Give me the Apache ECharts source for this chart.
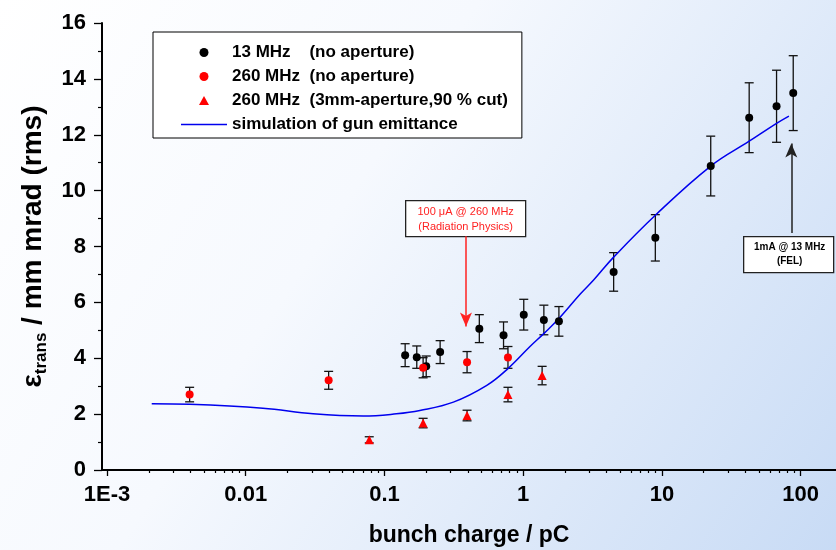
<!DOCTYPE html>
<html>
<head>
<meta charset="utf-8">
<script src="https://cdn.jsdelivr.net/npm/echarts@6/dist/echarts.min.js"></script>
<style>
  html, body { margin: 0; padding: 0; }
  #chart { width: 836px; height: 550px; }
</style>
</head>
<body>
<div id="chart"></div>
<script>
// 13 MHz (no aperture)
var q13 = [0.141, 0.171, 0.200, 0.252, 0.483, 0.722, 1.01, 1.41, 1.81, 4.49, 8.97, 22.5, 42.6, 67.1, 88.5];
var eps13 = [4.11, 4.04, 3.71, 4.22, 5.06, 4.82, 5.56, 5.37, 5.32, 7.09, 8.31, 10.88, 12.61, 13.02, 13.49];
var err13 = [0.41, 0.40, 0.37, 0.41, 0.50, 0.48, 0.55, 0.53, 0.53, 0.69, 0.83, 1.07, 1.25, 1.29, 1.34];
// 260 MHz (no aperture)
var q260 = [0.00394, 0.0396, 0.190, 0.394, 0.777];
var eps260 = [2.70, 3.21, 3.66, 3.86, 4.03];
var err260 = [0.26, 0.32, 0.36, 0.38, 0.39];
// 260 MHz (3mm aperture, 90 % cut)
var qCut = [0.0777, 0.190, 0.394, 0.777, 1.37];
var epsCut = [1.08, 1.68, 1.95, 2.70, 3.38];
var errCut = [0.11, 0.17, 0.19, 0.26, 0.33];
// simulation of gun emittance
var qSim = [0.0021, 0.00394, 0.0133, 0.0306, 0.0703, 0.122, 0.18, 0.314, 0.547, 0.777, 1.12, 1.42, 1.81, 2.58, 3.22, 4.49, 8.97, 22.5, 42.6, 67.1, 82.4];
var epsSim = [2.37, 2.35, 2.21, 2.01, 1.93, 2.01, 2.13, 2.43, 3.03, 3.63, 4.42, 4.90, 5.42, 6.30, 6.80, 7.62, 9.12, 10.88, 11.77, 12.41, 12.67];

// 坐标轴刻度
var xMajor = [0.001, 0.01, 0.1, 1, 10, 100];
var xMinor = [0.002, 0.003, 0.004, 0.005, 0.006, 0.007, 0.008, 0.009,
  0.02, 0.03, 0.04, 0.05, 0.06, 0.07, 0.08, 0.09,
  0.2, 0.3, 0.4, 0.5, 0.6, 0.7, 0.8, 0.9,
  2, 3, 4, 5, 6, 7, 8, 9,
  20, 30, 40, 50, 60, 70, 80, 90];
var xLabels = { 0.001: "1E-3", 0.01: "0.01", 0.1: "0.1", 1: "1", 10: "10", 100: "100" };

// 箭头注释 [x, y起点, y终点]
var arrowRed = [0.387, 8.37, 5.14];
var arrowBlack = [85.7, 8.48, 11.69];

var names = ["13 MHz    (no aperture)", "260 MHz  (no aperture)", "260 MHz  (3mm-aperture,90 % cut)", "simulation of gun emittance"];
var font = "Liberation Sans, Arial, sans-serif";

function pts(xs, ys) {
  return xs.map(function (x, i) { return [x, ys[i]]; });
}
function bars(xs, ys, es) {
  return xs.map(function (x, i) { return [x, ys[i] - es[i], ys[i] + es[i]]; });
}
// 误差棒
function renderErr(params, api) {
  var lo = api.coord([api.value(0), api.value(1)]);
  var hi = api.coord([api.value(0), api.value(2)]);
  var w = 4.5;
  var st = { stroke: "#111", lineWidth: 1.3 };
  return {
    type: "group",
    children: [
      { type: "line", shape: { x1: lo[0], y1: lo[1], x2: hi[0], y2: hi[1] }, style: st },
      { type: "line", shape: { x1: lo[0] - w, y1: lo[1], x2: lo[0] + w, y2: lo[1] }, style: st },
      { type: "line", shape: { x1: hi[0] - w, y1: hi[1], x2: hi[0] + w, y2: hi[1] }, style: st }
    ]
  };
}
function errSeries(data) {
  return {
    type: "custom",
    renderItem: renderErr,
    encode: { x: 0, y: [1, 2] },
    data: data,
    silent: true,
    z: 1
  };
}

(function () {
  var myChart = echarts.init(document.getElementById("chart"));
  var option = {
    animation: false,
    backgroundColor: {
      type: "linear", x: 0, y: 0, x2: 1, y2: 1,
      colorStops: [
        { offset: 0, color: "#ffffff" },
        { offset: 0.4, color: "#f6f9fe" },
        { offset: 1, color: "#c8dbf5" }
      ]
    },
    grid: { left: 102, right: 0, top: 23, bottom: 80, containLabel: false, outerBoundsMode: "none" },
    legend: {
      orient: "vertical",
      left: 153,
      top: 32,
      padding: [12, 14, 5, 28],
      itemGap: 7,
      itemWidth: 46,
      itemHeight: 9,
      itemTextGap: 5,
      borderColor: "#000",
      borderWidth: 1,
      borderRadius: 0,
      backgroundColor: "#fff",
      textStyle: { fontFamily: font, fontWeight: "bold", fontSize: 17, color: "#000", lineHeight: 17 },
      data: [
        { name: names[0], icon: "circle" },
        { name: names[1], icon: "circle" },
        { name: names[2], icon: "path://M0,9L5,0L10,9Z" },
        { name: names[3], icon: "path://M0,0L46,0L46,1.5L0,1.5Z" }
      ]
    },
    xAxis: [
      {
        type: "log",
        min: 0.00092,
        max: 180,
        position: "bottom",
        name: "bunch charge / pC",
        nameLocation: "middle",
        nameGap: 54,
        nameTextStyle: { fontFamily: font, fontWeight: "bold", fontSize: 23, color: "#000" },
        axisLine: { onZero: false, lineStyle: { color: "#000", width: 2 } },
        axisTick: { customValues: xMajor, length: 6, lineStyle: { color: "#000", width: 1.3 } },
        axisLabel: {
          customValues: xMajor,
          margin: 14,
          fontFamily: font, fontWeight: "bold", fontSize: 22, color: "#000",
          formatter: function (v) { return xLabels[v] || ""; }
        },
        splitLine: { show: false }
      },
      {
        type: "log",
        min: 0.00092,
        max: 180,
        position: "bottom",
        axisLine: { show: false, onZero: false },
        axisTick: { customValues: xMinor, length: 3, lineStyle: { color: "#000", width: 1.2 } },
        axisLabel: { show: false },
        splitLine: { show: false }
      }
    ],
    yAxis: {
      type: "value",
      min: 0,
      max: 16,
      interval: 2,
      name: "{e|ε}{s|trans}{e| / mm mrad (rms)}",
      nameLocation: "middle",
      nameGap: 52,
      nameTextStyle: {
        rich: {
          e: { fontFamily: font, fontWeight: "bold", fontSize: 28, color: "#000", lineHeight: 34, verticalAlign: "middle" },
          s: { fontFamily: font, fontWeight: "bold", fontSize: 17, color: "#000", lineHeight: 17, verticalAlign: "bottom" }
        }
      },
      axisLine: { onZero: false, lineStyle: { color: "#000", width: 2 } },
      axisTick: { length: 8, lineStyle: { color: "#000", width: 1.3 } },
      minorTick: { show: true, splitNumber: 2, length: 4, lineStyle: { color: "#000", width: 1.2 } },
      axisLabel: { margin: 16, fontFamily: font, fontWeight: "bold", fontSize: 22, color: "#000" },
      splitLine: { show: false }
    },
    series: [
      errSeries(bars(q13, eps13, err13)),
      errSeries(bars(q260, eps260, err260)),
      errSeries(bars(qCut, epsCut, errCut)),
      {
        name: names[3],
        type: "line",
        data: pts(qSim, epsSim),
        smooth: 0.4,
        showSymbol: false,
        symbol: "none",
        lineStyle: { color: "#0000ee", width: 1.5 },
        itemStyle: { color: "#0000ee" },
        z: 2,
        markLine: {
          silent: true,
          animation: false,
          symbol: ["none", "arrow"],
          symbolSize: [9, 14],
          label: { show: false },
          data: [
            [
              { coord: [arrowRed[0], arrowRed[1]], lineStyle: { color: "#ff2222", width: 1.5, type: "solid" }, itemStyle: { color: "#ff2222" } },
              { coord: [arrowRed[0], arrowRed[2]] }
            ],
            [
              { coord: [arrowBlack[0], arrowBlack[1]], lineStyle: { color: "#222", width: 1.5, type: "solid" }, itemStyle: { color: "#222" } },
              { coord: [arrowBlack[0], arrowBlack[2]] }
            ]
          ]
        }
      },
      {
        name: names[0],
        type: "scatter",
        data: pts(q13, eps13),
        symbol: "circle",
        symbolSize: 8,
        itemStyle: { color: "#000", opacity: 1 },
        z: 3
      },
      {
        name: names[1],
        type: "scatter",
        data: pts(q260, eps260),
        symbol: "circle",
        symbolSize: 8,
        itemStyle: { color: "#ff0000", opacity: 1 },
        z: 3
      },
      {
        name: names[2],
        type: "scatter",
        data: pts(qCut, epsCut),
        symbol: "triangle",
        symbolSize: 9,
        itemStyle: { color: "#ff0000", opacity: 1 },
        z: 3
      }
    ],
    graphic: [
      {
        type: "group",
        left: 405,
        top: 200,
        children: [
          { type: "rect", shape: { x: 0, y: 0, width: 120, height: 36 }, style: { fill: "#fff", stroke: "#222", lineWidth: 1.3 } },
          { type: "text", x: 60, y: 11, style: { text: "100 μA @ 260 MHz", fill: "#ff2222", font: "11px " + font, align: "center", verticalAlign: "middle" } },
          { type: "text", x: 60, y: 26, style: { text: "(Radiation Physics)", fill: "#ff2222", font: "11px " + font, align: "center", verticalAlign: "middle" } }
        ]
      },
      {
        type: "group",
        left: 743,
        top: 236,
        children: [
          { type: "rect", shape: { x: 0, y: 0, width: 90, height: 36 }, style: { fill: "#fff", stroke: "#222", lineWidth: 1.3 } },
          { type: "text", x: 46, y: 11, style: { text: "1mA @ 13 MHz", fill: "#000", font: "bold 10px " + font, align: "center", verticalAlign: "middle" } },
          { type: "text", x: 46, y: 25, style: { text: "(FEL)", fill: "#000", font: "bold 10px " + font, align: "center", verticalAlign: "middle" } }
        ]
      }
    ]
  };
  myChart.setOption(option);
  window.addEventListener("resize", function () {
    myChart.resize();
  });
})();
</script>
</body>
</html>
